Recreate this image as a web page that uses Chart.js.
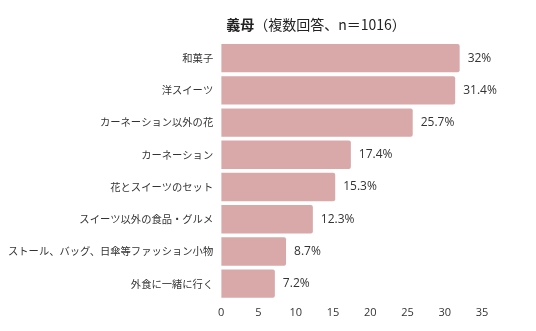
<!DOCTYPE html>
<html>
<head>
<meta charset="utf-8">
<script src="https://cdn.jsdelivr.net/npm/chart.js@4/dist/chart.umd.min.js"></script>
<style>
  html, body { margin: 0; padding: 0; background: #fff; }
  #wrap { width: 536px; height: 331px; }
</style>
</head>
<body>
<div id="wrap"><canvas id="myChart" width="536" height="331"></canvas></div>
<script>
const categories = [
    '和菓子',
    '洋スイーツ',
    'カーネーション以外の花',
    'カーネーション',
    '花とスイーツのセット',
    'スイーツ以外の食品・グルメ',
    'ストール、バッグ、日傘等ファッション小物',
    '外食に一緒に行く'
];
const values = [32, 31.4, 25.7, 17.4, 15.3, 12.3, 8.7, 7.2];
const xTicks = [0, 5, 10, 15, 20, 25, 30, 35];

const FONT = '"Noto Sans CJK JP", "Noto Sans", sans-serif';
const NUMFONT = '"Open Sans", "Noto Sans", sans-serif';

// title: bold "義母" + normal rest
const titlePlugin = {
    id: 'titleText',
    afterDraw(chart) {
        const ctx = chart.ctx;
        ctx.save();
        ctx.textBaseline = 'middle';
        ctx.fillStyle = '#222';
        ctx.font = 'bold 14px ' + FONT;
        const boldPart = '義母';
        const rest = '（複数回答、n＝1016）';
        const w1 = ctx.measureText(boldPart).width;
        ctx.font = '14px ' + FONT;
        const w2 = ctx.measureText(rest).width;
        const x0 = 316 - (w1 + w2) / 2;
        ctx.font = 'bold 14px ' + FONT;
        ctx.fillText(boldPart, x0, 25);
        ctx.font = '14px ' + FONT;
        ctx.fillText(rest, x0 + w1, 25);
        ctx.restore();
    }
};

// value labels to the right of bars
const valueLabels = {
    id: 'valueLabels',
    afterDatasetsDraw(chart) {
        const ctx = chart.ctx;
        const meta = chart.getDatasetMeta(0);
        ctx.save();
        ctx.font = '12px ' + NUMFONT;
        ctx.fillStyle = '#333';
        ctx.textBaseline = 'middle';
        ctx.textAlign = 'left';
        meta.data.forEach((bar, i) => {
            ctx.fillText(values[i] + '%', bar.x + 8, bar.y);
        });
        ctx.restore();
    }
};

const ctx = document.getElementById('myChart').getContext('2d');
const chart = new Chart(ctx, {
    type: 'bar',
    data: {
        labels: categories,
        datasets: [{
            data: values,
            backgroundColor: '#d9a9aa',
            borderRadius: 2,
            borderSkipped: 'start',
            barPercentage: 0.88,
            categoryPercentage: 1.0,
        }],
    },
    options: {
        indexAxis: 'y',
        responsive: false,
        animation: false,
        layout: { padding: { top: 42, right: 54, bottom: 6, left: 0 } },
        plugins: {
            legend: { display: false },
            tooltip: { enabled: false },
        },
        scales: {
            x: {
                min: 0,
                max: 35,
                afterBuildTicks(axis) {
                    axis.ticks = xTicks.map(v => ({ value: v }));
                },
                grid: { display: false, drawTicks: false },
                border: { display: false },
                ticks: { color: '#333', font: { size: 11, family: NUMFONT }, padding: 6 },
            },
            y: {
                grid: { display: false, drawTicks: false },
                border: { display: false },
                ticks: { color: '#333', font: { size: 10.3, family: FONT }, padding: 8, autoSkip: false },
            },
        },
    },
    plugins: [titlePlugin, valueLabels],
});
</script>
</body>
</html>
